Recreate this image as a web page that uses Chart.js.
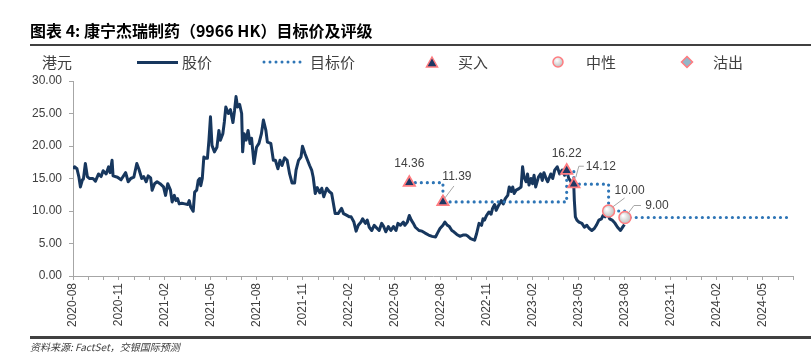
<!DOCTYPE html>
<html>
<head>
<meta charset="utf-8">
<script src="https://cdn.jsdelivr.net/npm/chart.js@4/dist/chart.umd.min.js"></script>
<style>
  html, body { margin: 0; padding: 0; background: #ffffff; }
  #wrap { position: relative; width: 811px; height: 355px; overflow: hidden; font-family: "Noto Sans CJK SC", "Liberation Sans", sans-serif; color: #404040; }
  #cv { position: absolute; left: 0; top: 0; }
  .abs { position: absolute; white-space: nowrap; }
  #title { left: 30px; top: 19px; font-size: 16px; font-weight: bold; line-height: 22px; color: #000; }
  .rule { position: absolute; left: 30px; right: 0; background: #404040; }
  .leg { font-size: 15px; line-height: 20px; top: 52px; color: #404040; }
  #source { left: 30px; top: 340px; font-size: 10px; font-style: italic; line-height: 14px; color: #404040; }
</style>
</head>
<body>
<div id="wrap">
  <canvas id="cv" width="811" height="355"></canvas>
  <div id="title" class="abs">图表 4: 康宁杰瑞制药（9966 HK）目标价及评级</div>
  <div class="rule" style="top:44px;height:2px;"></div>
  <div class="abs leg" style="left:42px;">港元</div>
  <div class="abs" style="left:137px;top:61px;width:41px;height:3px;background:#17375E;"></div>
  <div class="abs leg" style="left:182px;">股价</div>
  <svg class="abs" style="left:262px;top:58px;" width="46" height="8"><line x1="2" y1="4" x2="44" y2="4" stroke="#2E75B6" stroke-width="3" stroke-linecap="round" stroke-dasharray="0 6"/></svg>
  <div class="abs leg" style="left:310px;">目标价</div>
  <svg class="abs" style="left:425px;top:55px;" width="14" height="14"><polygon points="7,2 12.5,12 1.5,12" fill="#1F3864" stroke="#FF7C80" stroke-width="1.5"/></svg>
  <div class="abs leg" style="left:458px;">买入</div>
  <svg class="abs" style="left:551px;top:55px;" width="14" height="14"><defs><radialGradient id="g1" cx="40%" cy="35%" r="65%"><stop offset="0" stop-color="#ffffff"/><stop offset="1" stop-color="#bfbfbf"/></radialGradient></defs><circle cx="7" cy="7" r="5" fill="url(#g1)" stroke="#FF7C80" stroke-width="1.5"/></svg>
  <div class="abs leg" style="left:586px;">中性</div>
  <svg class="abs" style="left:680px;top:55px;" width="14" height="14"><polygon points="7,1.5 12.5,7 7,12.5 1.5,7" fill="#93B7C9" stroke="#FF7C80" stroke-width="1.5"/></svg>
  <div class="abs leg" style="left:713px;">沽出</div>
  <div class="rule" style="top:336px;height:3px;"></div>
  <div id="source" class="abs">资料来源: FactSet，交银国际预测</div>
</div>
<script>
// ---------- DATA ----------
const tickLabels = ['2020-08','2020-11','2021-02','2021-05','2021-08','2021-11','2022-02','2022-05',
                    '2022-08','2022-11','2023-02','2023-05','2023-08','2023-11','2024-02','2024-05'];

const priceDates = [
 '2020-08-01','2020-08-04','2020-08-09','2020-08-13','2020-08-16','2020-08-20','2020-08-22','2020-08-26','2020-08-30',
 '2020-09-03','2020-09-10','2020-09-15','2020-09-21','2020-09-26','2020-09-30',
 '2020-10-06','2020-10-11','2020-10-14','2020-10-18','2020-10-20','2020-10-29',
 '2020-11-05','2020-11-14','2020-11-19','2020-11-24','2020-11-30',
 '2020-12-06','2020-12-10','2020-12-16','2020-12-20','2020-12-25','2020-12-29',
 '2021-01-03','2021-01-06','2021-01-11','2021-01-16','2021-01-22','2021-01-29',
 '2021-02-02','2021-02-06','2021-02-11','2021-02-14','2021-02-18','2021-02-21','2021-02-24','2021-02-27',
 '2021-03-04','2021-03-10','2021-03-16','2021-03-19','2021-03-22','2021-03-27','2021-03-30',
 '2021-04-03','2021-04-06','2021-04-09','2021-04-11','2021-04-14','2021-04-17','2021-04-21','2021-04-24','2021-04-27','2021-04-30',
 '2021-05-03','2021-05-08','2021-05-13','2021-05-17','2021-05-20','2021-05-25','2021-05-28','2021-05-31',
 '2021-06-05','2021-06-09','2021-06-14','2021-06-17','2021-06-20','2021-06-23','2021-06-27',
 '2021-07-01','2021-07-03','2021-07-06','2021-07-10','2021-07-14','2021-07-18','2021-07-21','2021-07-26','2021-07-31',
 '2021-08-05','2021-08-10','2021-08-14','2021-08-19','2021-08-22','2021-08-29',
 '2021-09-03','2021-09-07','2021-09-12','2021-09-16','2021-09-20','2021-09-25','2021-09-30',
 '2021-10-05','2021-10-10','2021-10-15','2021-10-18','2021-10-23','2021-10-28','2021-10-31',
 '2021-11-05','2021-11-10','2021-11-14','2021-11-18','2021-11-21','2021-11-25','2021-11-29',
 '2021-12-04','2021-12-08','2021-12-12','2021-12-18','2021-12-23','2021-12-28','2021-12-31',
 '2022-01-04','2022-01-10','2022-01-17','2022-01-21','2022-01-26',
 '2022-02-02','2022-02-05','2022-02-10','2022-02-14','2022-02-18','2022-02-23','2022-02-26',
 '2022-03-03','2022-03-07','2022-03-11','2022-03-16','2022-03-21','2022-03-27','2022-03-31',
 '2022-04-05','2022-04-09','2022-04-13','2022-04-18','2022-04-23','2022-04-28',
 '2022-05-03','2022-05-07','2022-05-12','2022-05-18','2022-05-21','2022-05-26','2022-05-30',
 '2022-06-03','2022-06-07','2022-06-11','2022-06-18','2022-06-24','2022-06-30',
 '2022-07-07','2022-07-14','2022-07-21','2022-07-25','2022-07-30',
 '2022-08-05','2022-08-09','2022-08-14','2022-08-18','2022-08-23','2022-08-27',
 '2022-09-02','2022-09-08','2022-09-14','2022-09-20','2022-09-24','2022-09-29',
 '2022-10-04','2022-10-07','2022-10-11','2022-10-16','2022-10-21','2022-10-24','2022-10-27','2022-10-31',
 '2022-11-05','2022-11-09','2022-11-12','2022-11-16','2022-11-19','2022-11-24','2022-11-29',
 '2022-12-03','2022-12-07','2022-12-12','2022-12-15','2022-12-19','2022-12-22','2022-12-25','2022-12-29',
 '2023-01-03','2023-01-08','2023-01-11','2023-01-14','2023-01-18','2023-01-21','2023-01-24','2023-01-28','2023-01-31',
 '2023-02-03','2023-02-06','2023-02-11','2023-02-15','2023-02-18','2023-02-21','2023-02-25','2023-02-28',
 '2023-03-06','2023-03-10','2023-03-14','2023-03-19','2023-03-24','2023-03-29',
 '2023-04-03','2023-04-08','2023-04-11','2023-04-14','2023-04-17','2023-04-21','2023-04-22','2023-04-24','2023-04-27',
 '2023-05-01','2023-05-07','2023-05-12','2023-05-17','2023-05-22','2023-05-27',
 '2023-06-01','2023-06-05','2023-06-10','2023-06-15','2023-06-18','2023-06-22','2023-06-27',
 '2023-07-01','2023-07-06','2023-07-12','2023-07-17','2023-07-23','2023-07-28','2023-07-31'
];
const priceValues = [
 16.5,16.8,16.5,15.2,13.7,14.8,14.9,17.3,15.3,
 15.0,15.0,14.6,15.7,15.3,16.2,
 15.7,16.8,15.9,17.8,15.4,15.2,
 14.8,15.9,14.5,15.0,15.2,
 17.3,16.5,15.0,15.3,14.5,15.4,
 15.1,13.2,14.2,14.5,14.2,13.7,
 12.4,14.2,13.2,11.4,12.4,11.6,11.9,11.1,
 11.2,11.1,11.0,11.6,10.6,9.95,12.9,
 13.2,14.7,15.0,13.9,15.0,18.3,18.1,18.1,20.9,24.5,
 20.1,19.1,19.8,22.4,20.9,21.9,23.7,26.0,
 25.0,25.6,23.6,25.4,27.6,26.0,26.4,
 25.0,19.1,21.9,20.9,22.4,20.4,21.2,17.3,19.8,
 20.4,21.9,24.0,22.4,20.6,20.4,
 17.8,17.8,16.5,17.8,17.0,18.2,17.8,
 15.7,14.3,14.3,16.3,17.8,18.3,19.95,
 18.8,17.8,17.0,16.3,15.2,12.7,13.6,
 12.8,13.5,12.2,13.5,13.0,12.7,11.4,
 9.6,9.6,10.4,9.6,9.4,
 9.1,9.1,8.3,6.9,7.8,8.3,8.8,
 8.1,8.6,7.5,7.0,7.8,7.3,7.0,
 8.1,7.6,6.8,7.6,7.0,7.6,
 7.0,8.1,7.8,8.3,7.8,8.3,9.3,
 8.6,8.1,7.5,7.0,6.9,6.6,
 6.3,6.1,6.0,6.6,7.3,
 7.8,8.3,7.8,7.6,7.0,6.8,
 6.4,6.1,6.3,6.3,6.1,5.75,
 5.6,5.5,6.5,8.1,7.8,8.8,8.6,9.3,
 9.85,9.5,10.4,11.0,10.1,10.9,11.6,
 11.1,11.9,12.4,13.7,13.0,13.7,12.7,13.2,
 13.4,13.7,16.8,15.2,14.5,15.7,14.0,15.0,14.2,
 15.5,13.7,15.2,15.7,14.7,15.9,15.0,14.5,
 15.7,15.0,16.3,16.8,15.7,16.3,
 15.5,16.0,15.0,14.7,14.2,13.7,11.6,9.1,8.6,
 8.3,8.1,7.5,7.8,7.3,7.0,
 7.3,7.8,8.6,8.8,9.3,9.1,9.6,
 8.8,8.6,8.1,7.5,7.0,7.6,7.9
];

const ratingDates   = ['2022-05-30','2022-08-05','2023-04-07','2023-04-21','2023-06-29','2023-08-01'];
const targetPrices  = [14.36, 11.39, 16.22, 14.12, 10.00, 9.00];
const ratingTypes   = ['买入','买入','买入','买入','中性','中性'];
const targetEndDate = '2024-06-25';

// ---------- STYLE (label placement relative to markers, px) ----------
const labelStyle = [
  { dx: 0,  dy: -19, lead: null },
  { dx: 14, dy: -25, lead: [[2,-4],[11,-16]] },
  { dx: 0,  dy: -17, lead: null },
  { dx: 27, dy: -18, lead: [[2,-7],[5,-18],[10,-18]] },
  { dx: 21, dy: -20, lead: [[4,-4],[16,-13]] },
  { dx: 32, dy: -12, lead: [[3,-4],[9,-12],[16,-12]] }
];

// ---------- HELPERS ----------
function toMonth(s) {
  const [y, mo, d] = s.split('-').map(Number);
  const dim = new Date(y, mo, 0).getDate();
  return (y - 2020) * 12 + (mo - 8) + (d - 1) / dim;
}

const priceData = priceDates.map((d, i) => ({ x: toMonth(d), y: priceValues[i] }));
const targetData = ratingDates.map((d, i) => ({ x: toMonth(d), y: targetPrices[i] }));
targetData.push({ x: toMonth(targetEndDate), y: targetPrices[targetPrices.length - 1] });
const buyData = [], neutralData = [];
ratingDates.forEach((d, i) => {
  const p = { x: toMonth(d), y: targetPrices[i] };
  if (ratingTypes[i] === '买入') buyData.push(p); else neutralData.push(p);
});

const ctx = document.getElementById('cv').getContext('2d');
function circleFill(c) {
  const el = c.element;
  if (!el || el.x === undefined) return '#d9d9d9';
  const g = c.chart.ctx.createRadialGradient(el.x - 2, el.y - 2, 0.5, el.x, el.y, 7);
  g.addColorStop(0, '#ffffff');
  g.addColorStop(1, '#b8b8b8');
  return g;
}

const labelPlugin = {
  id: 'targetLabels',
  afterDatasetsDraw(chart) {
    const { ctx } = chart;
    const xs = chart.scales.x, ys = chart.scales.y;
    ctx.save();
    ctx.font = '12px "Liberation Sans", Arial, sans-serif';
    ctx.fillStyle = '#404040';
    ctx.textAlign = 'center';
    ctx.textBaseline = 'middle';
    ratingDates.forEach((d, i) => {
      const px = xs.getPixelForValue(toMonth(d));
      const py = ys.getPixelForValue(targetPrices[i]);
      const st = labelStyle[i];
      if (st.lead) {
        ctx.strokeStyle = '#a6a6a6';
        ctx.lineWidth = 1;
        ctx.beginPath();
        st.lead.forEach((p, k) => {
          if (k === 0) ctx.moveTo(px + p[0], py + p[1]); else ctx.lineTo(px + p[0], py + p[1]);
        });
        ctx.stroke();
      }
      ctx.fillText(targetPrices[i].toFixed(2), px + st.dx, py + st.dy);
    });
    ctx.restore();
  }
};

new Chart(ctx, {
  type: 'line',
  data: {
    datasets: [
      { label: '股价', data: priceData, borderColor: '#17375E', borderWidth: 3, pointRadius: 0,
        tension: 0, borderJoinStyle: 'round', order: 3 },
      { label: '目标价', data: targetData, borderColor: '#2E75B6', borderWidth: 3.2, pointRadius: 0,
        stepped: true, borderDash: [0.01, 6], borderCapStyle: 'round', order: 2 },
      { label: '买入', data: buyData, showLine: false, pointStyle: 'triangle', pointRadius: 6.5,
        pointBackgroundColor: '#1F3864', pointBorderColor: '#FF7C80', pointBorderWidth: 1.8, order: 0 },
      { label: '中性', data: neutralData, showLine: false, pointStyle: 'circle', pointRadius: 6,
        pointBackgroundColor: circleFill, pointBorderColor: '#FF7C80', pointBorderWidth: 1.5, order: 0 }
    ]
  },
  options: {
    responsive: false,
    animation: false,
    events: [],
    layout: { padding: { left: 0, right: 8, top: 81, bottom: 0 } },
    plugins: { legend: { display: false }, tooltip: { enabled: false } },
    scales: {
      x: {
        type: 'linear', min: 0, max: 47,
        afterFit: s => { s.height = 79; },
        border: { display: true, color: '#a6a6a6', width: 1 },
        grid: { display: true, drawOnChartArea: false, drawTicks: true, tickLength: 4, color: '#a6a6a6' },
        ticks: {
          stepSize: 1, autoSkip: false, maxRotation: 90, minRotation: 90, padding: 3,
          color: '#404040', font: { family: '"Liberation Sans", Arial, sans-serif', size: 12 },
          callback: v => (v % 3 === 0 ? (tickLabels[v / 3] || '') : '')
        }
      },
      y: {
        min: 0, max: 30,
        afterFit: s => { s.width = 73; },
        border: { display: true, color: '#a6a6a6', width: 1 },
        grid: { display: true, drawOnChartArea: false, drawTicks: true, tickLength: 4, color: '#a6a6a6' },
        ticks: {
          stepSize: 5, padding: 7, color: '#404040',
          font: { family: '"Liberation Sans", Arial, sans-serif', size: 12 },
          callback: v => Number(v).toFixed(2)
        }
      }
    }
  },
  plugins: [labelPlugin]
});
</script>
</body>
</html>
